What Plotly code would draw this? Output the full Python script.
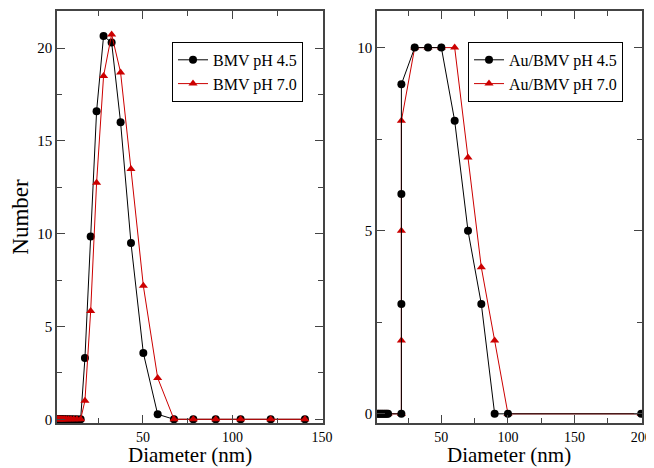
import plotly.graph_objects as go

# ---- data ----
diam_bmv = [2.3, 2.6, 3.0, 3.5, 4.1, 4.7, 5.4, 6.3, 7.3, 8.5, 9.8, 11.3, 13.1, 15.2,
            17.6, 20.8, 24.1, 28.0, 32.5, 37.5, 43.3, 50.2, 58.2, 67.3, 78.1, 90.6,
            104.5, 121.3, 140.4]
bmv_ph45 = [0, 0, 0, 0, 0, 0, 0, 0, 0, 0, 0, 0, 0, 0,
            3.3, 9.85, 16.6, 20.65, 20.3, 16.0, 9.5, 3.57, 0.27, 0, 0, 0, 0, 0, 0]
bmv_ph70 = [0, 0, 0, 0, 0, 0, 0, 0, 0, 0, 0, 0, 0, 0,
            1.0, 5.84, 12.74, 18.5, 20.74, 18.69, 13.48, 7.19, 2.23, 0, 0, 0, 0, 0, 0]

diam_au = [2, 3, 4, 5, 6, 7, 8, 9, 10, 20, 20, 20, 20, 30, 40, 50, 60, 70, 80, 90, 100, 200]
au_ph45 = [0, 0, 0, 0, 0, 0, 0, 0, 0, 0, 3, 6, 9, 10, 10, 10, 8, 5, 3, 0, 0, 0]
au_ph70 = [0, 0, 0, 0, 0, 0, 0, 0, 0, 0, 2, 5, 8, 10, 10, 10, 10, 7, 4, 2, 0, 0]

names_left = ["BMV pH 4.5", "BMV pH 7.0"]
names_right = ["Au/BMV pH 4.5", "Au/BMV pH 7.0"]
x_title = "Diameter (nm)"
y_title = "Number"

BLACK = "#000000"
RED = "#cc0000"
FONT = "Liberation Serif, Times New Roman, serif"

fig = go.Figure()

# left panel
fig.add_trace(go.Scatter(x=diam_bmv, y=bmv_ph45, name=names_left[0], mode="lines+markers",
                         line=dict(color=BLACK, width=1),
                         marker=dict(symbol="circle", size=8, color=BLACK),
                         xaxis="x", yaxis="y", legend="legend"))
fig.add_trace(go.Scatter(x=diam_bmv, y=bmv_ph70, name=names_left[1], mode="lines+markers",
                         line=dict(color=RED, width=1),
                         marker=dict(symbol="triangle-up", size=8, color=RED),
                         xaxis="x", yaxis="y", legend="legend"))

# right panel (black drawn on top)
fig.add_trace(go.Scatter(x=diam_au, y=au_ph70, name=names_right[1], mode="lines+markers",
                         line=dict(color=RED, width=1),
                         marker=dict(symbol="triangle-up", size=8, color=RED),
                         xaxis="x2", yaxis="y2", legend="legend2", legendrank=2))
fig.add_trace(go.Scatter(x=diam_au, y=au_ph45, name=names_right[0], mode="lines+markers",
                         line=dict(color=BLACK, width=1),
                         marker=dict(symbol="circle", size=8, color=BLACK),
                         xaxis="x2", yaxis="y2", legend="legend2", legendrank=1))

axis_common = dict(showline=True, linecolor="#444444", linewidth=1.5, mirror="ticks",
                   ticks="inside", ticklen=8, tickwidth=1.2, tickcolor="#444444",
                   showgrid=False, zeroline=False, automargin=False)
yfont = dict(family=FONT, size=15, color="black")
xfont = dict(family=FONT, size=14, color="black")
minor_x = dict(ticks="inside", ticklen=5, dtick=25, tick0=0, tickcolor="#444444")
minor_y = dict(ticks="inside", ticklen=5, dtick=2.5, tick0=0, tickcolor="#444444")

XD1 = [0, 0.4547]
XD2 = [0.547, 1]

# page body has an 8px default margin, so the figure is sized to fit inside it
fig.update_layout(
    width=646, height=460,
    paper_bgcolor="white", plot_bgcolor="white",
    margin=dict(l=49, r=12, t=3, b=45),
    font=dict(family=FONT, color="black"),
    xaxis=dict(domain=XD1, range=[2, 150.5], tickmode="linear", tick0=0, dtick=50,
               minor=minor_x, anchor="y", ticklabelstandoff=0, tickfont=xfont,
               **axis_common),
    yaxis=dict(range=[-0.2, 22], tickmode="linear", tick0=0, dtick=5,
               minor=minor_y, tickfont=yfont,
               title=dict(text=y_title, font=dict(family=FONT, size=23), standoff=6),
               anchor="x", **axis_common),
    xaxis2=dict(domain=XD2, range=[1.7, 200.6], tickmode="linear", tick0=0, dtick=50,
                minor=minor_x, anchor="y2", ticklabelstandoff=0, tickfont=xfont,
                **axis_common),
    yaxis2=dict(range=[-0.25, 11], tickmode="linear", tick0=0, dtick=5,
                minor=minor_y, anchor="x2", tickfont=yfont, **axis_common),
    legend=dict(x=0.1966, y=0.925, xanchor="left", yanchor="top",
                bordercolor="black", borderwidth=1, bgcolor="white",
                font=dict(family=FONT, size=16), tracegroupgap=0),
    legend2=dict(x=0.7026, y=0.925, xanchor="left", yanchor="top",
                 bordercolor="black", borderwidth=1, bgcolor="white",
                 font=dict(family=FONT, size=16), tracegroupgap=0),
    showlegend=True,
    annotations=[
        dict(text=x_title, xref="paper", yref="paper", x=sum(XD1) / 2, y=-0.109,
             xanchor="center", yanchor="bottom", showarrow=False, borderpad=0,
             font=dict(family=FONT, size=21, color="black")),
        dict(text=x_title, xref="paper", yref="paper", x=sum(XD2) / 2, y=-0.109,
             xanchor="center", yanchor="bottom", showarrow=False, borderpad=0,
             font=dict(family=FONT, size=21, color="black")),
    ],
)

fig.write_html("out.html")
